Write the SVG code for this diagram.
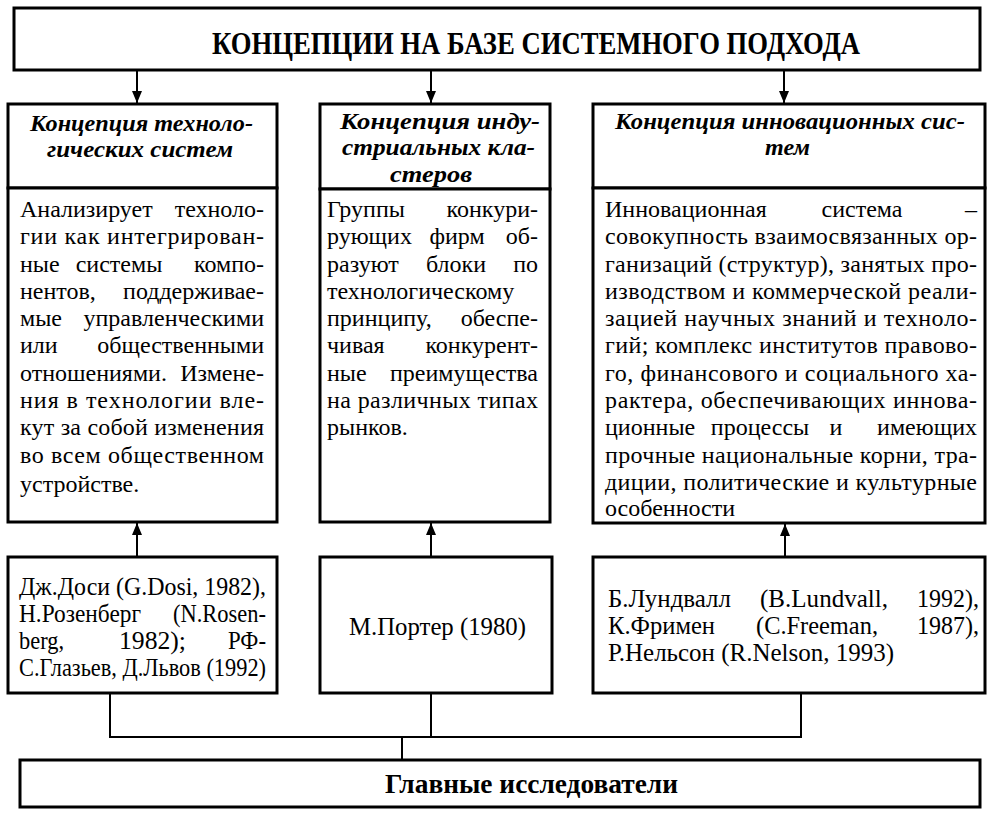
<svg xmlns="http://www.w3.org/2000/svg" width="1000" height="826" viewBox="0 0 1000 826">
<style>
.box{fill:#fff;stroke:#000;stroke-width:3}
.conn{stroke:#000;stroke-width:2;fill:none}
text{font-family:"Liberation Serif","Times New Roman",serif;fill:#000}
.t{font-size:24px}
.h{font-size:23px;font-weight:bold;font-style:italic}
.a{font-size:26px}
.ttl{font-size:31px;font-weight:bold}
.bt{font-size:27px;font-weight:bold}
.e{text-anchor:end}
.m{text-anchor:middle}
</style>
<defs>
<marker id="arr" markerUnits="userSpaceOnUse" markerWidth="12" markerHeight="10" refX="12" refY="5" orient="auto">
<path d="M0,0 L12,5 L0,10 z" fill="#000"/>
</marker>
</defs>

<g id="connectors">
<line class="conn" x1="137" y1="70" x2="137" y2="103" marker-end="url(#arr)"/>
<line class="conn" x1="431" y1="70" x2="431" y2="103" marker-end="url(#arr)"/>
<line class="conn" x1="784" y1="70" x2="784" y2="103" marker-end="url(#arr)"/>
<line class="conn" x1="137" y1="557" x2="137" y2="523" marker-end="url(#arr)"/>
<line class="conn" x1="431" y1="557" x2="431" y2="523" marker-end="url(#arr)"/>
<line class="conn" x1="785" y1="557" x2="785" y2="524" marker-end="url(#arr)"/>
<polyline class="conn" points="110,693 110,737 801,737 801,693"/>
<line class="conn" x1="431" y1="693" x2="431" y2="737"/>
<line class="conn" x1="402" y1="737" x2="402" y2="760"/>
</g>

<g id="title">
<rect class="box" x="14" y="8" width="966" height="62"/>
<text class="ttl" x="212" y="54" textLength="648" lengthAdjust="spacingAndGlyphs">КОНЦЕПЦИИ НА БАЗЕ СИСТЕМНОГО ПОДХОДА</text>
</g>

<g id="col1-head">
<rect class="box" x="8" y="104" width="269" height="84"/>
<text class="h" x="30" y="131" textLength="223" lengthAdjust="spacingAndGlyphs">Концепция техноло-</text>
<text class="h" x="47" y="157" textLength="186" lengthAdjust="spacingAndGlyphs">гических систем</text>
</g>

<g id="col2-head">
<rect class="box" x="320" y="104" width="230" height="85"/>
<text class="h" x="340" y="129" textLength="200" lengthAdjust="spacingAndGlyphs">Концепция инду-</text>
<text class="h" x="342" y="155" textLength="193" lengthAdjust="spacingAndGlyphs">стриальных кла-</text>
<text class="h" x="390" y="182" textLength="82" lengthAdjust="spacingAndGlyphs">стеров</text>
</g>

<g id="col3-head">
<rect class="box" x="593" y="104" width="392" height="84"/>
<text class="h" x="615" y="129" textLength="350" lengthAdjust="spacingAndGlyphs">Концепция инновационных сис-</text>
<text class="h" x="765" y="155" textLength="45" lengthAdjust="spacingAndGlyphs">тем</text>
</g>

<g id="col1-body">
<rect class="box" x="8" y="188" width="269" height="334"/>
<text class="t" x="20" y="217">Анализирует</text><text class="t e" x="264" y="217">техноло-</text>
<text class="t" x="20" y="244" textLength="244" lengthAdjust="spacing">гии как интегрирован-</text>
<text class="t" x="20" y="272">ные</text><text class="t m" x="119" y="272">системы</text><text class="t e" x="264" y="272">компо-</text>
<text class="t" x="20" y="299">нентов,</text><text class="t e" x="264" y="299">поддерживае-</text>
<text class="t" x="20" y="326">мые</text><text class="t e" x="264" y="326">управленческими</text>
<text class="t" x="20" y="353">или</text><text class="t e" x="264" y="353">общественными</text>
<text class="t" x="20" y="381">отношениями.</text><text class="t e" x="264" y="381">Измене-</text>
<text class="t" x="20" y="408" textLength="244" lengthAdjust="spacing">ния в технологии вле-</text>
<text class="t" x="20" y="435" textLength="244" lengthAdjust="spacing">кут за собой изменения</text>
<text class="t" x="20" y="463" textLength="244" lengthAdjust="spacing">во всем общественном</text>
<text class="t" x="20" y="492">устройстве.</text>
</g>

<g id="col2-body">
<rect class="box" x="320" y="189" width="230" height="333"/>
<text class="t" x="327" y="217">Группы</text><text class="t e" x="538" y="217">конкури-</text>
<text class="t" x="327" y="244">рующих</text><text class="t m" x="457" y="244">фирм</text><text class="t e" x="538" y="244">об-</text>
<text class="t" x="327" y="272">разуют</text><text class="t m" x="456" y="272">блоки</text><text class="t e" x="538" y="272">по</text>
<text class="t" x="327" y="299">технологическому</text>
<text class="t" x="327" y="326">принципу,</text><text class="t e" x="538" y="326">обеспе-</text>
<text class="t" x="327" y="353">чивая</text><text class="t e" x="538" y="353">конкурент-</text>
<text class="t" x="327" y="381">ные</text><text class="t e" x="538" y="381">преимущества</text>
<text class="t" x="327" y="408" textLength="211" lengthAdjust="spacing">на различных типах</text>
<text class="t" x="327" y="435">рынков.</text>
</g>

<g id="col3-body">
<rect class="box" x="593" y="188" width="392" height="335"/>
<text class="t" x="605" y="217">Инновационная</text><text class="t m" x="862" y="217">система</text><text class="t e" x="977" y="217">–</text>
<text class="t" x="605" y="244" textLength="372" lengthAdjust="spacing">совокупность взаимосвязанных ор-</text>
<text class="t" x="605" y="272" textLength="372" lengthAdjust="spacing">ганизаций (структур), занятых про-</text>
<text class="t" x="605" y="299" textLength="372" lengthAdjust="spacing">изводством и коммерческой реали-</text>
<text class="t" x="605" y="326" textLength="372" lengthAdjust="spacing">зацией научных знаний и техноло-</text>
<text class="t" x="605" y="353" textLength="372" lengthAdjust="spacing">гий; комплекс институтов правово-</text>
<text class="t" x="605" y="381" textLength="372" lengthAdjust="spacing">го, финансового и социального ха-</text>
<text class="t" x="605" y="408" textLength="372" lengthAdjust="spacing">рактера, обеспечивающих иннова-</text>
<text class="t" x="605" y="435">ционные</text><text class="t m" x="760" y="435">процессы</text><text class="t m" x="836" y="435">и</text><text class="t e" x="977" y="435">имеющих</text>
<text class="t" x="605" y="463" textLength="372" lengthAdjust="spacing">прочные национальные корни, тра-</text>
<text class="t" x="605" y="490" textLength="372" lengthAdjust="spacing">диции, политические и культурные</text>
<text class="t" x="605" y="516">особенности</text>
</g>

<g id="authors1">
<rect class="box" x="8" y="557" width="269" height="136"/>
<text class="a" x="19" y="595" textLength="247" lengthAdjust="spacingAndGlyphs">Дж.Доси (G.Dosi, 1982),</text>
<text class="a" x="19" y="622" textLength="122" lengthAdjust="spacingAndGlyphs">Н.Розенберг</text><text class="a" x="173" y="622" textLength="93" lengthAdjust="spacingAndGlyphs">(N.Rosen-</text>
<text class="a" x="19" y="649" textLength="45" lengthAdjust="spacingAndGlyphs">berg,</text><text class="a" x="119" y="649" textLength="67" lengthAdjust="spacingAndGlyphs">1982);</text><text class="a" x="228" y="649" textLength="38" lengthAdjust="spacingAndGlyphs">РФ-</text>
<text class="a" x="19" y="676" textLength="247" lengthAdjust="spacingAndGlyphs">С.Глазьев, Д.Львов (1992)</text>
</g>

<g id="authors2">
<rect class="box" x="320" y="557" width="232" height="136"/>
<text class="a" x="349" y="635" textLength="177" lengthAdjust="spacingAndGlyphs">М.Портер (1980)</text>
</g>

<g id="authors3">
<rect class="box" x="593" y="557" width="392" height="136"/>
<text class="a" x="608" y="607" textLength="123" lengthAdjust="spacingAndGlyphs">Б.Лундвалл</text><text class="a" x="760" y="607" textLength="128" lengthAdjust="spacingAndGlyphs">(B.Lundvall,</text><text class="a" x="917" y="607" textLength="62" lengthAdjust="spacingAndGlyphs">1992),</text>
<text class="a" x="608" y="634" textLength="107" lengthAdjust="spacingAndGlyphs">К.Фримен</text><text class="a" x="756" y="634" textLength="122" lengthAdjust="spacingAndGlyphs">(C.Freeman,</text><text class="a" x="917" y="634" textLength="62" lengthAdjust="spacingAndGlyphs">1987),</text>
<text class="a" x="608" y="661" textLength="286" lengthAdjust="spacingAndGlyphs">Р.Нельсон (R.Nelson, 1993)</text>
</g>

<g id="researchers">
<rect class="box" x="20" y="760" width="960" height="47"/>
<text class="bt" x="385" y="793" textLength="293" lengthAdjust="spacingAndGlyphs">Главные исследователи</text>
</g>
</svg>
